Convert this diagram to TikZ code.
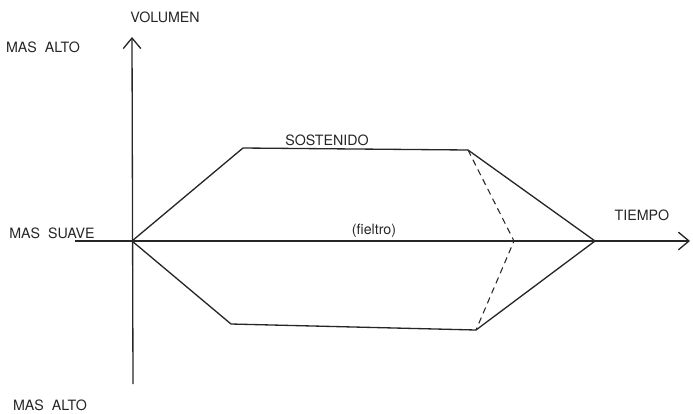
\documentclass[tikz,border=0pt]{standalone}
\usepackage{fontspec}
\setmainfont{TeX Gyre Heros}
\usepackage{tikz}
\usetikzlibrary{arrows.meta}
\tikzset{
  axis/.style   = {line width=0.75pt, black!85, -{Straight Barb[length=6pt,width=10pt,line width=0.75pt]}},
  env/.style    = {line width=0.75pt, black!85, line join=miter},
  alt/.style    = {line width=0.6pt, black!85, dash pattern=on 3.6pt off 2.6pt},
  lbl/.style    = {inner sep=0pt, font=\fontsize{8.1}{10}\selectfont, black!85},
}
\begin{document}
\begin{tikzpicture}[x=0.02cm, y=-0.02cm]
        \useasboundingbox (0,0) rectangle (693,413);

        % axes
        \coordinate (o) at (132,241);
        \coordinate (xs) at (75,241);
        \coordinate (xe) at (690,241);
        \coordinate (ys) at (133,384);
        \coordinate (ye) at (132,37);
        \draw[axis] (xs) -- (xe);
        \draw[axis] (ys) -- (ye);

        % envelope : attack, sustain, release
        \coordinate (a1) at (243,148);
        \coordinate (s1) at (468,150);
        \coordinate (r1) at (595,241);
        \coordinate (a2) at (231,324);
        \coordinate (s2) at (476,330);
        \coordinate (f1) at (514,241);
        \draw[env] (o) -- (a1) -- (s1) -- (r1) -- (s2) -- (a2) -- cycle;

        % damped release (fieltro)
        \draw[alt] (s1) -- (f1) -- (s2);

        % labels
        \node[lbl] (vol)  at (165,17)  {VOLUMEN};
        \node[lbl] (hi1)  at (43,47)   {MAS\ \ ALTO};
        \node[lbl] (soft) at (52,233)  {MAS\ \ SUAVE};
        \node[lbl] (hi2)  at (50,405)  {MAS\ \ ALTO};
        \node[lbl] (sus)  at (327,140) {SOSTENIDO};
        \node[lbl] (fel)  at (374,231) {(fieltro)};
        \node[lbl] (time) at (642,215) {TIEMPO};
    \end{tikzpicture}
\end{document}
